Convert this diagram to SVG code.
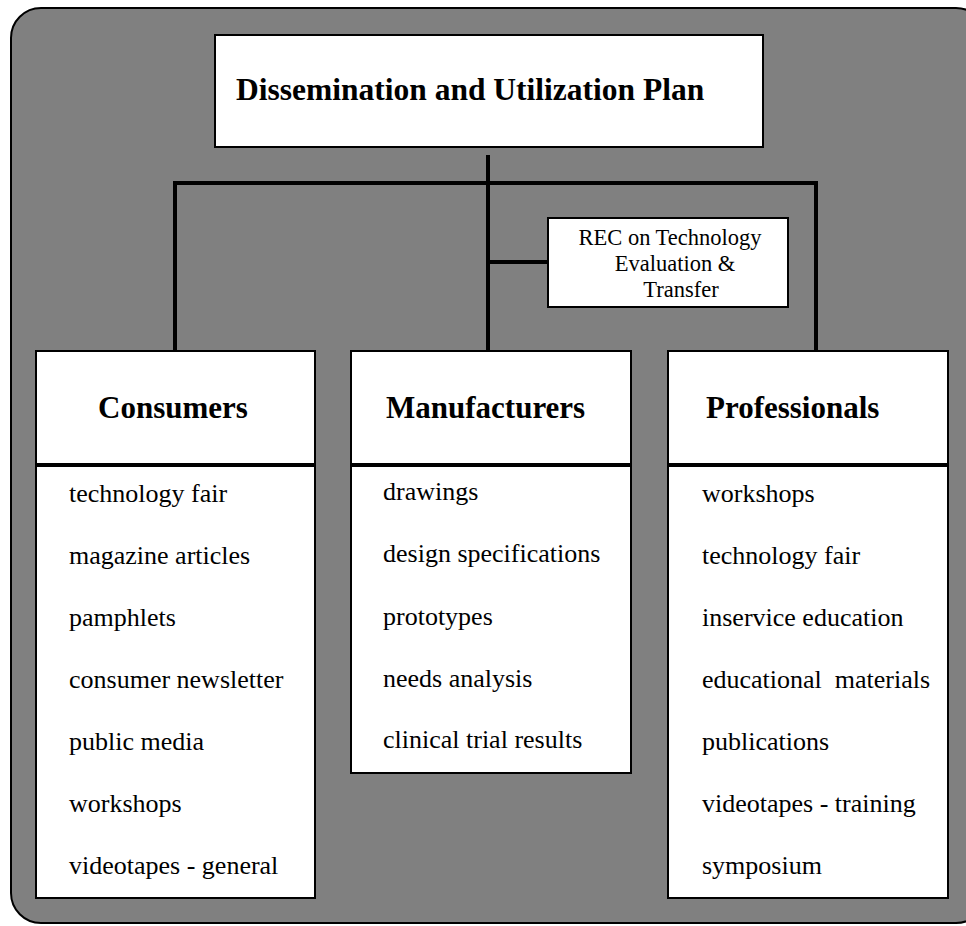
<svg xmlns="http://www.w3.org/2000/svg" width="966" height="926" viewBox="0 0 966 926">
<style>
.box{fill:#fff;stroke:#000;stroke-width:2}
.div{stroke:#000;stroke-width:4}
.con{stroke:#000;stroke-width:4;fill:none}
.t{font-family:"Liberation Serif","Times New Roman",serif;fill:#000}
.title{font-size:31.5px;font-weight:bold}
.head{font-size:31px;font-weight:bold}
.item{font-size:26px;white-space:pre}
.rec{font-size:22.5px;text-anchor:middle}
</style>
<rect x="11" y="8" width="975" height="915" rx="30" ry="30" fill="#808080" stroke="#000" stroke-width="2"/>
<g id="connectors">
<line class="con" x1="488" y1="155" x2="488" y2="351"/>
<polyline class="con" points="175,351 175,183 816,183 816,351"/>
<line class="con" x1="488" y1="262" x2="548" y2="262"/>
</g>
<g id="title">
<rect class="box" x="215" y="35" width="548" height="112"/>
<text class="t title" x="236" y="100">Dissemination and Utilization Plan</text>
</g>
<g id="rec">
<rect class="box" x="548" y="218" width="240" height="89"/>
<text class="t rec" x="670" y="245">REC on Technology</text>
<text class="t rec" x="675" y="271">Evaluation &amp;</text>
<text class="t rec" x="681" y="297">Transfer</text>
</g>
<g id="consumers">
<rect class="box" x="36" y="351" width="279" height="547"/>
<line class="div" x1="36" y1="465" x2="315" y2="465"/>
<text class="t head" x="98" y="418">Consumers</text>
<text class="t item" x="69" y="502">technology fair</text>
<text class="t item" x="69" y="564">magazine articles</text>
<text class="t item" x="69" y="626">pamphlets</text>
<text class="t item" x="69" y="688">consumer newsletter</text>
<text class="t item" x="69" y="750">public media</text>
<text class="t item" x="69" y="812">workshops</text>
<text class="t item" x="69" y="874">videotapes - general</text>
</g>
<g id="manufacturers">
<rect class="box" x="351" y="351" width="280" height="422"/>
<line class="div" x1="351" y1="465" x2="631" y2="465"/>
<text class="t head" x="386" y="418">Manufacturers</text>
<text class="t item" x="383" y="500">drawings</text>
<text class="t item" x="383" y="562">design specifications</text>
<text class="t item" x="383" y="625">prototypes</text>
<text class="t item" x="383" y="687">needs analysis</text>
<text class="t item" x="383" y="748">clinical trial results</text>
</g>
<g id="professionals">
<rect class="box" x="668" y="351" width="280" height="547"/>
<line class="div" x1="668" y1="465" x2="948" y2="465"/>
<text class="t head" x="706" y="418">Professionals</text>
<text class="t item" x="702" y="502">workshops</text>
<text class="t item" x="702" y="564">technology fair</text>
<text class="t item" x="702" y="626">inservice education</text>
<text class="t item" x="702" y="688">educational  materials</text>
<text class="t item" x="702" y="750">publications</text>
<text class="t item" x="702" y="812">videotapes - training</text>
<text class="t item" x="702" y="874">symposium</text>
</g>
</svg>
